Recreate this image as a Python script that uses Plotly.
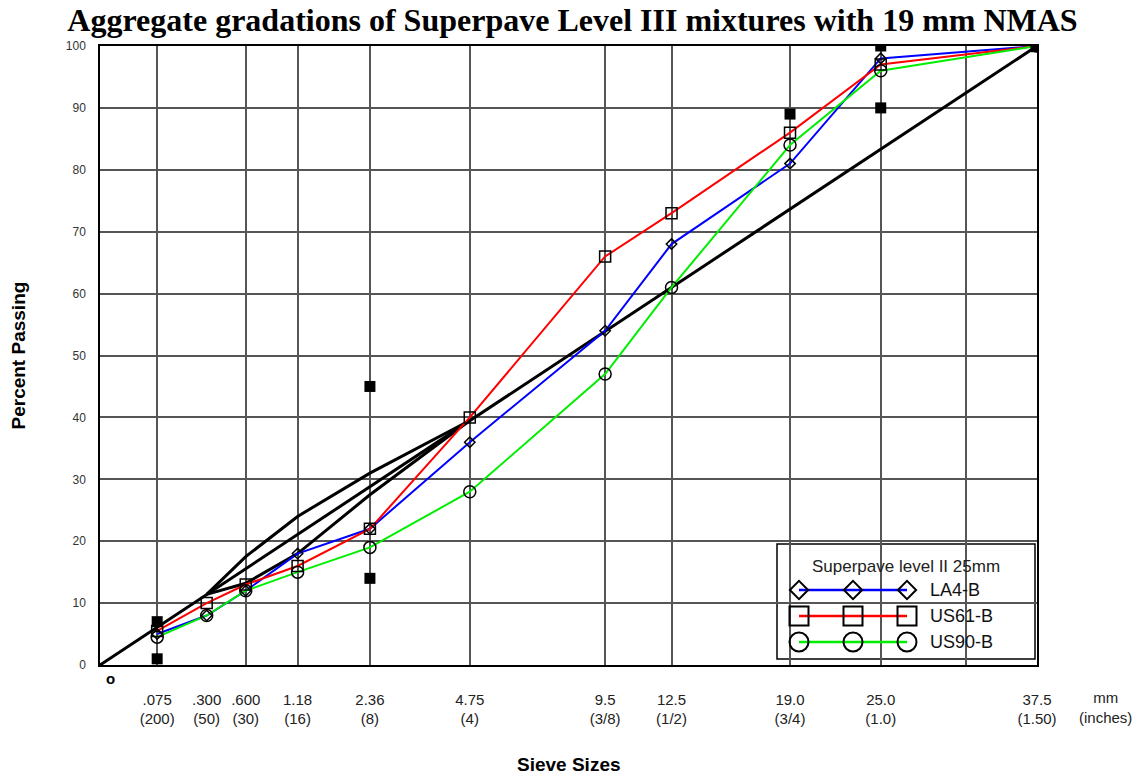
import plotly.graph_objects as go

# Sieve sizes (mm) and gradation data, percent passing
sieves = [0.075, 0.3, 0.6, 1.18, 2.36, 4.75, 9.5, 12.5, 19.0, 25.0, 37.5]
la4_b = [5, 8, 12, 18, 22, 36, 54, 68, 81, 98, 100]
us61_b = [5.5, 10, 13, 16, 22, 40, 66, 73, 86, 97, 100]
us90_b = [4.5, 8, 12, 15, 19, 28, 47, 61, 84, 96, 100]

# Superpave control points
control_sieves = [0.075, 0.075, 2.36, 2.36, 19.0, 25.0, 25.0, 37.5]
control_values = [1, 7, 14, 45, 89, 90, 100, 100]

# Restricted zone boundaries
rz_sieves = [0.3, 0.6, 1.18, 2.36, 4.75]
rz_upper = [11.4, 17.5, 24.0, 31.0, 39.5]
rz_lower = [11.4, 13.2, 18.0, 27.5, 39.5]

# Maximum density line end points
mdl_sieves = [0.0, 37.5]
mdl_values = [0, 100]

# Axis labelling
tick_sieves = [0.075, 0.3, 0.6, 1.18, 2.36, 4.75, 9.5, 12.5, 19.0, 25.0, 37.5]
tick_mm = [".075", ".300", ".600", "1.18", "2.36", "4.75", "9.5", "12.5", "19.0", "25.0", "37.5"]
tick_in = ["(200)", "(50)", "(30)", "(16)", "(8)", "(4)", "(3/8)", "(1/2)", "(3/4)", "(1.0)", "(1.50)"]
grid_sieves = [0.075, 0.6, 1.18, 2.36, 4.75, 9.5, 12.5, 19.0, 25.0, 31.5, 37.5]
y_ticks = list(range(0, 101, 10))

POWER = 0.45


def t(s):
    return s ** POWER


X_MAX = t(37.5)
W, H = 1145, 776
L, R, T, B = 100, 108, 46, 111
PW, PH = W - L - R, H - T - B
SANS = "Liberation Sans, Arial"


def px_x(px):
    return (px - L) / PW * X_MAX


def px_y(py):
    return (H - B - py) / PH * 100


def note(px, py, text, size, color="#222", **kw):
    fig.add_annotation(x=(px - L) / PW, y=(H - B - py) / PH, xref="paper", yref="paper",
                       text=text, showarrow=False,
                       xanchor=kw.pop("xanchor", "center"), yanchor="middle",
                       font=dict(family=SANS, size=size, color=color), **kw)


fig = go.Figure()

# Max density line and restricted zone
fig.add_trace(go.Scatter(x=[t(s) for s in mdl_sieves], y=mdl_values, mode="lines",
                         line=dict(color="black", width=3)))
fig.add_trace(go.Scatter(x=[t(s) for s in rz_sieves], y=rz_upper, mode="lines",
                         line=dict(color="black", width=3)))
fig.add_trace(go.Scatter(x=[t(s) for s in rz_sieves], y=rz_lower, mode="lines",
                         line=dict(color="black", width=3)))

series = [
    ("LA4-B", la4_b, "#0000ff", "diamond-open", 8, 14),
    ("US61-B", us61_b, "#ff0000", "square-open", 11, 19),
    ("US90-B", us90_b, "#00ee00", "circle-open", 12, 19),
]
for name, vals, col, sym, size, _ in series:
    fig.add_trace(go.Scatter(x=[t(s) for s in sieves], y=vals, mode="lines",
                             line=dict(color=col, width=2)))
for name, vals, col, sym, size, _ in series:
    fig.add_trace(go.Scatter(x=[t(s) for s in sieves], y=vals, mode="markers",
                             marker=dict(symbol=sym, size=size, color="black",
                                         line=dict(width=1.5))))

# Control points
fig.add_trace(go.Scatter(x=[t(s) for s in control_sieves], y=control_values, mode="markers",
                         marker=dict(symbol="square", size=11, color="black")))

# Custom legend box
box = dict(x0=777, x1=1035, y0=544, y1=659)
fig.add_shape(type="rect", xref="paper", yref="paper",
              x0=(box["x0"] - L) / PW, x1=(box["x1"] - L) / PW,
              y0=(H - B - box["y1"]) / PH, y1=(H - B - box["y0"]) / PH,
              line=dict(color="black", width=1.5), fillcolor="white", layer="between")
note(906, 566, "Superpave level II 25mm", 17)
row_px = [590, 616, 642]
sample_px = [799, 853, 907]
for (name, vals, col, sym, size, lsize), ry in zip(series, row_px):
    fig.add_trace(go.Scatter(x=[px_x(p) for p in sample_px], y=[px_y(ry)] * 3,
                             mode="lines", line=dict(color=col, width=2.5)))
    fig.add_trace(go.Scatter(x=[px_x(p) for p in sample_px], y=[px_y(ry)] * 3,
                             mode="markers",
                             marker=dict(symbol=sym, size=lsize, color="black", line=dict(width=2))))
    note(928, ry, name, 18, color="#111", xanchor="left")

# Axis annotations
note(110, 678, "<b>o</b>", 15, color="black")
note(1105, 707, "mm<br>(inches)", 15)
note((L + W - R) / 2, 764, "<b>Sieve Sizes</b>", 19, color="black")
note(18, (T + H - B) / 2, "<b>Percent Passing</b>", 19, color="black", textangle=-90)

fig.update_layout(
    width=W, height=H,
    margin=dict(l=L, r=R, t=T, b=B),
    paper_bgcolor="white", plot_bgcolor="white",
    title=dict(text="<b>Aggregate gradations of Superpave Level III mixtures with 19 mm NMAS</b>",
               x=0.5, xanchor="center", y=1 - 20 / H, yanchor="middle",
               font=dict(family="Liberation Serif, Times New Roman", size=32, color="black")),
    showlegend=False,
)
fig.update_xaxes(
    range=[0, X_MAX], showgrid=False, zeroline=False,
    tickmode="array", tickvals=[t(s) for s in tick_sieves],
    ticktext=[f"{a}<br>{b}" for a, b in zip(tick_mm, tick_in)],
    ticks="", ticklabelstandoff=20,
    tickfont=dict(family=SANS, size=15, color="#222"),
    showline=True, linecolor="black", linewidth=1.5, mirror=True,
    minor=dict(tickmode="array", tickvals=[t(s) for s in grid_sieves],
               showgrid=True, gridcolor="#555", gridwidth=1.5, ticks=""),
)
fig.update_yaxes(
    range=[0, 100], tickmode="array", tickvals=y_ticks,
    showgrid=True, gridcolor="#555", gridwidth=1.5, zeroline=False,
    ticks="", ticklabelstandoff=10,
    tickfont=dict(family=SANS, size=12, color="#333"),
    showline=True, linecolor="black", linewidth=1.5, mirror=True,
)

fig.write_html("out.html")
